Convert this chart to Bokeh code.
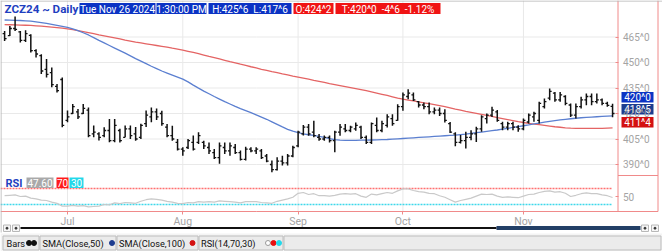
import math
from bokeh.plotting import figure
from bokeh.models import Range1d, LinearAxis, FixedTicker, ColumnDataSource
from bokeh.core.properties import value
from bokeh.embed import file_html
from bokeh.resources import INLINE

# ---------------- data ----------------
symbol = "ZCZ24"
period = "Daily"
last_date = "Tue Nov 26 2024"
last_time = "1:30:00 PM"

month_labels = ["Jul", "Aug", "Sep", "Oct", "Nov"]
month_bar_index = [12, 34, 56, 76, 99]
price_ticks = [390, 405, 420, 435, 450, 465]
rsi_ticks = [50]
rsi_upper = 70
rsi_lower = 30
legend_names = ["Bars", "SMA(Close,50)", "SMA(Close,100)", "RSI(14,70,30)"]

opens = [467, 465.8, 470, 468, 463, 466, 457, 454, 446, 444,
         436, 440, 416, 420, 421, 420, 422, 408, 408, 407,
         410, 404, 410, 406, 411, 408, 406, 414, 418, 421,
         420, 412, 407, 403, 399, 400, 403, 403, 403, 400,
         397, 394, 400, 398, 400, 397, 393, 399, 398, 398,
         395, 390, 387, 392, 391, 395, 401, 408, 412, 409,
         406, 405, 406, 404, 409, 411, 410, 411, 412, 406,
         403, 413, 410, 413, 417, 416, 424, 430, 431, 427,
         425, 424, 421, 422, 420, 414, 408, 403, 404, 406,
         408, 411, 417, 419, 421, 414, 412, 414, 412, 411,
         415, 418, 416, 424, 429, 432, 428, 430, 425, 419,
         424, 428, 430, 427, 428, 426, 424.25]
highs = [468.6, 471.5, 477.0, 468.6, 469.0, 466.6, 457.8, 454.9, 452.0, 447.0,
         437.3, 441.2, 421.7, 425.6, 422.7, 425.6, 423.6, 412.9, 409.0, 411.9,
         416.8, 416.8, 411.0, 413.0, 413.0, 412.0, 414.0, 421.7, 423.6, 423.0,
         421.6, 413.8, 412.8, 405.0, 400.1, 405.0, 407.0, 408.9, 404.0, 403.0,
         399.1, 403.0, 403.0, 403.0, 402.0, 398.2, 400.5, 400.1, 400.1, 399.1,
         396.2, 392.3, 394.3, 395.2, 396.2, 401.1, 409.9, 413.3, 413.8, 415.7,
         407.9, 407.0, 407.0, 409.9, 413.8, 413.8, 412.8, 414.7, 412.8, 407.0,
         414.7, 417.7, 415.7, 419.6, 419.6, 425.5, 432.3, 434.2, 432.3, 427.4,
         426.4, 426.4, 423.5, 423.5, 422.5, 415.0, 409.0, 407.3, 409.2, 410.2,
         412.2, 419.0, 420.0, 423.9, 422.0, 415.1, 415.1, 415.1, 413.1, 417.0,
         420.0, 421.0, 426.9, 428.8, 434.7, 432.7, 432.7, 430.8, 425.9, 425.9,
         429.8, 431.8, 431.8, 431.8, 428.8, 426.9, 425.75]
lows = [462.7, 465.6, 468.6, 461.7, 462.0, 455.9, 452.9, 443.2, 441.2, 435.4,
        432.4, 411.9, 414.8, 419.7, 416.8, 419.7, 406.0, 406.0, 404.1, 406.0,
        403.1, 403.1, 403.0, 406.0, 405.0, 404.0, 405.0, 412.0, 414.8, 416.2,
        412.8, 406.0, 404.0, 398.2, 395.2, 399.1, 398.2, 402.1, 399.1, 396.2,
        393.3, 390.4, 396.2, 395.2, 396.2, 392.3, 392.3, 397.2, 396.2, 393.3,
        391.3, 385.5, 386.5, 389.4, 389.4, 394.3, 400.1, 407.0, 406.9, 406.0,
        404.0, 404.0, 403.0, 397.2, 406.9, 408.9, 408.9, 409.9, 405.0, 402.1,
        402.1, 408.9, 408.9, 411.8, 412.8, 415.7, 421.6, 428.4, 427.4, 423.5,
        422.5, 419.6, 419.6, 418.6, 414.7, 408.5, 400.8, 402.4, 399.4, 404.3,
        403.3, 409.2, 414.1, 418.0, 415.1, 410.2, 410.2, 410.2, 409.2, 410.2,
        414.1, 415.1, 414.1, 422.9, 427.8, 426.9, 426.9, 424.9, 418.0, 417.1,
        422.9, 424.9, 424.9, 425.9, 424.9, 423.9, 417.75]
closes = [464, 470, 469.5, 463, 467, 457, 455, 445, 443, 437,
          433.5, 413, 418, 424, 418, 423, 407, 409, 406, 410,
          404, 413, 404, 411, 407, 405, 413, 419, 421, 418,
          414, 407, 405, 399, 398, 404, 399, 407, 401, 398,
          394, 401, 398, 401, 397, 393, 399, 398, 399, 394,
          392, 387, 392, 391, 395, 400, 409, 412, 408, 407,
          405, 406, 404, 409, 412, 410, 412, 413, 406, 403,
          414, 410, 414, 418, 414, 424, 431, 432, 428, 425,
          424, 421, 422, 420, 416, 409, 403, 404, 406, 408,
          411, 418, 419, 422, 416, 412, 414, 412, 411, 416,
          419, 420, 426, 427, 433, 428, 431, 426, 419, 424,
          428, 430, 427, 428, 426, 424.75, 420]
sma50 = [475.0, 474.9, 474.8, 474.7, 474.5, 474.3, 473.9, 473.5, 473.0, 472.4,
         471.8, 471.2, 470.6, 469.8, 468.7, 467.5, 466.2, 464.6, 463.0, 461.5,
         460.0, 458.5, 457.0, 455.5, 453.9, 452.3, 450.8, 449.3, 447.8, 446.4,
         445.0, 443.8, 442.6, 441.4, 440.2, 438.6, 436.7, 434.9, 433.2, 431.6,
         430.0, 428.5, 427.0, 425.6, 424.2, 422.9, 421.7, 420.5, 419.2, 417.9,
         416.6, 415.1, 413.6, 412.1, 410.7, 409.6, 408.7, 408.0, 407.5, 407.1,
         406.6, 406.0, 405.2, 404.6, 404.3, 404.2, 404.2, 404.2, 404.3, 404.3,
         404.4, 404.5, 404.6, 404.7, 404.9, 405.1, 405.3, 405.5, 405.7, 405.9,
         406.1, 406.3, 406.5, 406.7, 406.9, 407.1, 407.3, 407.6, 407.9, 408.3,
         408.7, 409.1, 409.5, 409.9, 410.3, 410.8, 411.3, 411.8, 412.3, 412.8,
         413.3, 413.9, 414.4, 414.9, 415.4, 415.8, 416.2, 416.6, 416.9, 417.2,
         417.5, 417.7, 417.9, 418.1, 418.3, 418.5, 418.625]
sma100 = [472.3, 472.2, 472.1, 472.0, 471.9, 471.8, 471.6, 471.4, 471.1, 470.8,
          470.5, 470.2, 469.8, 469.3, 468.8, 468.2, 467.6, 467.0, 466.3, 465.7,
          465.1, 464.5, 463.9, 463.2, 462.6, 462.0, 461.5, 461.0, 460.5, 460.0,
          459.5, 459.0, 458.4, 457.9, 457.3, 456.6, 455.9, 455.2, 454.4, 453.6,
          452.9, 452.1, 451.3, 450.5, 449.8, 449.0, 448.3, 447.5, 446.8, 446.0,
          445.3, 444.6, 444.0, 443.3, 442.7, 442.0, 441.4, 440.8, 440.2, 439.5,
          438.9, 438.3, 437.6, 437.0, 436.4, 435.8, 435.2, 434.6, 434.0, 433.4,
          432.7, 432.0, 431.3, 430.6, 429.8, 429.0, 428.4, 427.9, 427.4, 426.9,
          426.3, 425.8, 425.2, 424.6, 424.0, 423.3, 422.6, 422.0, 421.3, 420.7,
          420.1, 419.5, 418.9, 418.3, 417.6, 417.0, 416.4, 415.8, 415.2, 414.7,
          414.2, 413.8, 413.4, 413.0, 412.6, 412.2, 411.9, 411.6, 411.4, 411.3,
          411.2, 411.2, 411.2, 411.3, 411.3, 411.4, 411.5]
rsi14 = [52, 53, 54, 50, 51, 46, 44, 41, 40, 36,
         33, 26, 26, 28, 26, 27, 24, 25, 26, 30,
         29, 34, 32, 35, 34, 33, 38, 42, 44, 43,
         41, 38, 36, 33, 32, 35, 34, 37, 36, 37,
         36, 39, 38, 37, 36, 34, 37, 37, 37, 35,
         34, 33, 38, 41, 44, 48, 58, 60, 55, 57,
         52, 52, 51, 53, 56, 57, 56, 57, 51, 48,
         56, 54, 57, 60, 58, 64, 69, 69, 65, 62,
         61, 58, 57, 52, 48, 42, 36, 40, 43, 46,
         51, 56, 55, 56, 51, 48, 49, 48, 47, 51,
         55, 56, 60, 63, 64, 61, 62, 58, 50, 53,
         57, 59, 57, 57, 54, 52, 47.6]

n = len(closes)
assert all(len(a) == n for a in (opens, highs, lows, sma50, sma100, rsi14))

# ---------------- layout constants ----------------
W, H = 662, 251
BAR_PX = 5.241          # pixels per bar
FIRST_MONTH_PX = 67.0   # pixel of the Jul gridline
Y420_PX = 113.0         # pixel of the 420 gridline
PX_PER_CENT = 1.7       # pixels per price unit
RSI70_PX = 188.0
PX_PER_RSI = 0.4
AXIS_PX = 617.5
PANEL_BOTTOM_PX = 211.0
FONT = "Roboto"

x_start = month_bar_index[0] - FIRST_MONTH_PX / BAR_PX
x_end = x_start + W / BAR_PX
p_top = 420 + Y420_PX / PX_PER_CENT
p_bot = p_top - H / PX_PER_CENT
r_top = rsi_upper + RSI70_PX / PX_PER_RSI
r_bot = r_top - H / PX_PER_RSI
axis_x = x_start + AXIS_PX / BAR_PX
xaxis_y = p_top - PANEL_BOTTOM_PX / PX_PER_CENT


def eighths(v):
    sign = "-" if v < 0 else ""
    v = abs(v)
    whole = math.floor(v + 1e-9)
    e = round((v - whole) * 8)
    if e == 8:
        whole += 1
        e = 0
    return f"{sign}{whole}^{e}"


p = figure(width=W, height=H, x_range=Range1d(x_start, x_end), y_range=Range1d(p_bot, p_top),
           output_backend="svg", toolbar_location=None, x_axis_location=None, y_axis_location=None,
           min_border=0, outline_line_color=None, background_fill_color="white",
           border_fill_color="white")
p.grid.visible = False
p.extra_x_ranges = {"px": Range1d(0, W)}
p.extra_y_ranges = {"py": Range1d(H, 0), "rsi": Range1d(r_bot, r_top)}

GRID = "#e9e9e9"
AXRED = "#f08a8a"

# grid lines
p.segment(x0=0, x1=AXIS_PX, y0=price_ticks, y1=price_ticks, x_range_name="px",
          line_color=GRID, line_width=1)
p.segment(x0=month_bar_index, x1=month_bar_index, y0=0, y1=PANEL_BOTTOM_PX, y_range_name="py",
          line_color=GRID, line_width=1)

# moving averages
idx = list(range(n))
p.line(idx, sma100, line_color="#e46464", line_width=1.3)
p.line(idx, sma50, line_color="#5b7fd0", line_width=1.3)

# OHLC bars
src = ColumnDataSource(dict(i=idx, il=[i - 0.38 for i in idx], ir=[i + 0.38 for i in idx],
                            o=opens, h=highs, l=lows, c=closes))
p.segment(x0="i", x1="i", y0="l", y1="h", source=src, line_color="#111111", line_width=1.5)
p.segment(x0="il", x1="i", y0="o", y1="o", source=src, line_color="#111111", line_width=1.3)
p.segment(x0="i", x1="ir", y0="c", y1="c", source=src, line_color="#111111", line_width=1.3)

# RSI panel
p.segment(x0=0, x1=612, y0=rsi_upper, y1=rsi_upper, x_range_name="px", y_range_name="rsi",
          line_color="#ff7070", line_width=1.5, line_dash="2 1")
p.segment(x0=0, x1=612, y0=rsi_lower, y1=rsi_lower, x_range_name="px", y_range_name="rsi",
          line_color="#3fd8ea", line_width=1.5, line_dash="2 1")
p.line(idx, rsi14, y_range_name="rsi", line_color="#c9c9c9", line_width=1.2)

# frame lines (axis box, panel bottom, separator)
p.segment(x0=[AXIS_PX, 657.5, 0, AXIS_PX, 0, 0.5],
          x1=[AXIS_PX, 657.5, 657.5, 657.5, W, 0.5],
          y0=[0, 0, PANEL_BOTTOM_PX, 175, 0.5, 0],
          y1=[PANEL_BOTTOM_PX, PANEL_BOTTOM_PX, PANEL_BOTTOM_PX, 175, 0.5, 232],
          x_range_name="px", y_range_name="py",
          line_color=[AXRED, AXRED, AXRED, AXRED, "#b4b4b4", "#b4b4b4"], line_width=1)

# axes
ax_price = LinearAxis(ticker=FixedTicker(ticks=price_ticks), fixed_location=axis_x,
                      major_label_overrides={t: eighths(t) for t in price_ticks})
ax_rsi = LinearAxis(ticker=FixedTicker(ticks=rsi_ticks), fixed_location=axis_x, y_range_name="rsi",
                    major_label_overrides={t: str(t) for t in rsi_ticks})
for ax in (ax_price, ax_rsi):
    ax.axis_line_color = None
    ax.major_tick_in = 3
    ax.major_tick_out = 0
    ax.major_tick_line_color = AXRED
    ax.minor_tick_line_color = None
    ax.major_label_standoff = 5
    ax.major_label_text_color = "#a4a4a4"
    ax.major_label_text_font = FONT
    ax.major_label_text_font_size = "10px"
    ax.major_label_text_baseline = "bottom"
    p.add_layout(ax, "right")

ax_x = LinearAxis(ticker=FixedTicker(ticks=month_bar_index), fixed_location=xaxis_y,
                  major_label_overrides=dict(zip(month_bar_index, month_labels)))
ax_x.axis_line_color = None
ax_x.major_tick_in = 0
ax_x.major_tick_out = 3
ax_x.major_tick_line_color = AXRED
ax_x.minor_tick_line_color = None
ax_x.major_label_standoff = 0
ax_x.major_label_text_color = "#a4a4a4"
ax_x.major_label_text_font = FONT
ax_x.major_label_text_font_size = "10.5px"
ax_x.major_label_text_align = "left"
p.add_layout(ax_x, "below")


def boxes(specs, y0, y1, size, text_color="white", bold=False):
    s = ColumnDataSource(dict(l=[b[0] for b in specs], r=[b[1] for b in specs],
                              c=[b[2] for b in specs], t=[b[3] for b in specs],
                              xm=[(b[0] + b[1]) / 2 for b in specs]))
    p.quad(left="l", right="r", top=y0, bottom=y1, fill_color="c", line_color=None, source=s,
           x_range_name="px", y_range_name="py")
    p.text(x="xm", y=(y0 + y1) / 2 + 0.5, text="t", source=s, text_align="center",
           text_baseline="middle", text_color=text_color, text_font=value(FONT),
           text_font_size=value(size), text_font_style="bold" if bold else "normal",
           x_range_name="px", y_range_name="py")


def label(x, y, txt, size, color, bold=False, align="left"):
    p.text(x=[x], y=[y], text=[txt], text_align=align, text_baseline="middle", text_color=color,
           text_font=value(FONT), text_font_size=value(size),
           text_font_style="bold" if bold else "normal", x_range_name="px", y_range_name="py")


BLUE = "#0b33c4"
RED = "#f01414"
prev_close = closes[-2]
chg = closes[-1] - prev_close
pct = chg / prev_close * 100

# header
label(4, 8.5, f"{symbol} ~ {period}", "11.6px", "#1f3fc0", bold=True)
boxes([(79, 155, BLUE, last_date),
       (156, 206, BLUE, last_time),
       (208, 291, BLUE, f"H:{eighths(highs[-1])}\u00a0 L:{eighths(lows[-1])}"),
       (293, 333, RED, f"O:{eighths(opens[-1])}"),
       (335, 440, RED, f"T:{eighths(closes[-1])}\u00a0 {eighths(chg)}\u00a0 {pct:.2f}%")],
      2.5, 13.5, "10px")

# last-value boxes on the price axis
last_vals = [eighths(closes[-1]), eighths(sma50[-1]), eighths(sma100[-1])]
vb = ColumnDataSource(dict(l=[621, 621, 621], r=[653, 653, 653], t=[91.5, 103.5, 116.5],
                           b=[102, 114, 127], c=[BLUE, "#1d3c8f", "#d41111"],
                           ym=[97.2, 109.2, 122.2], s=last_vals))
p.quad(left="l", right="r", top="t", bottom="b", fill_color="c", line_color=None, source=vb,
       x_range_name="px", y_range_name="py")
p.text(x=637, y="ym", text="s", source=vb, text_align="center", text_baseline="middle",
       text_color="white", text_font=value(FONT), text_font_size=value("10px"),
       x_range_name="px", y_range_name="py")

# RSI header
label(5, 182.5, "RSI", "11px", "#1f3fc0", bold=True)
boxes([(26, 53, "#a9a9a9", f"{rsi14[-1]:.2f}"),
       (56, 68, "#ff1a1a", str(rsi_upper)),
       (69, 83, "#22d8ea", str(rsi_lower))], 177, 187.5, "10px")

# scrollbar
p.segment(x0=20, x1=496, y0=227.5, y1=227.5, x_range_name="px", y_range_name="py",
          line_color="#111111", line_width=2)
p.quad(left=496, right=640, top=225.5, bottom=229.5, fill_color="#223f66", line_color=None,
       x_range_name="px", y_range_name="py")
p.quad(left=[3, 12, 641, 651], right=[10, 19, 648, 658], top=224.5, bottom=231,
       fill_color="#f7f7f7", line_color="#b8b8b8", x_range_name="px", y_range_name="py")
p.scatter(x=[6.5, 15.5, 644.5, 654.5], y=227.7, size=2, color="#333333",
          x_range_name="px", y_range_name="py")

# legend tabs
p.quad(left=0, right=W, top=233, bottom=H, fill_color="#f4f4f4", line_color=None,
       x_range_name="px", y_range_name="py")
p.quad(left=[2.5, 39.5, 116.5, 198.5, 283.5], right=[38.5, 115.5, 197.5, 282.5, 660.5],
       top=235.5, bottom=249.5, fill_color="#ebebeb", line_color="#bdbdbd",
       x_range_name="px", y_range_name="py")
p.text(x=[6, 42, 118.5, 200.5], y=243, text=legend_names, text_align="left", text_baseline="middle",
       text_color="#111111", text_font=value(FONT), text_font_size=value("9.2px"),
       x_range_name="px", y_range_name="py")
p.scatter(x=[28.5, 33.5, 111.5, 192, 267.5, 273, 278.5],
          y=242.5, size=5,
          fill_color=["#111111", "#111111", "#1d3c8f", "#d41111", "white", "#e81010", "#22d8ea"],
          line_color=["#111111", "#111111", "#1d3c8f", "#d41111", "#9a9a9a", "#e81010", "#22d8ea"],
          x_range_name="px", y_range_name="py")

open("out.html", "w").write(file_html(p, INLINE))
